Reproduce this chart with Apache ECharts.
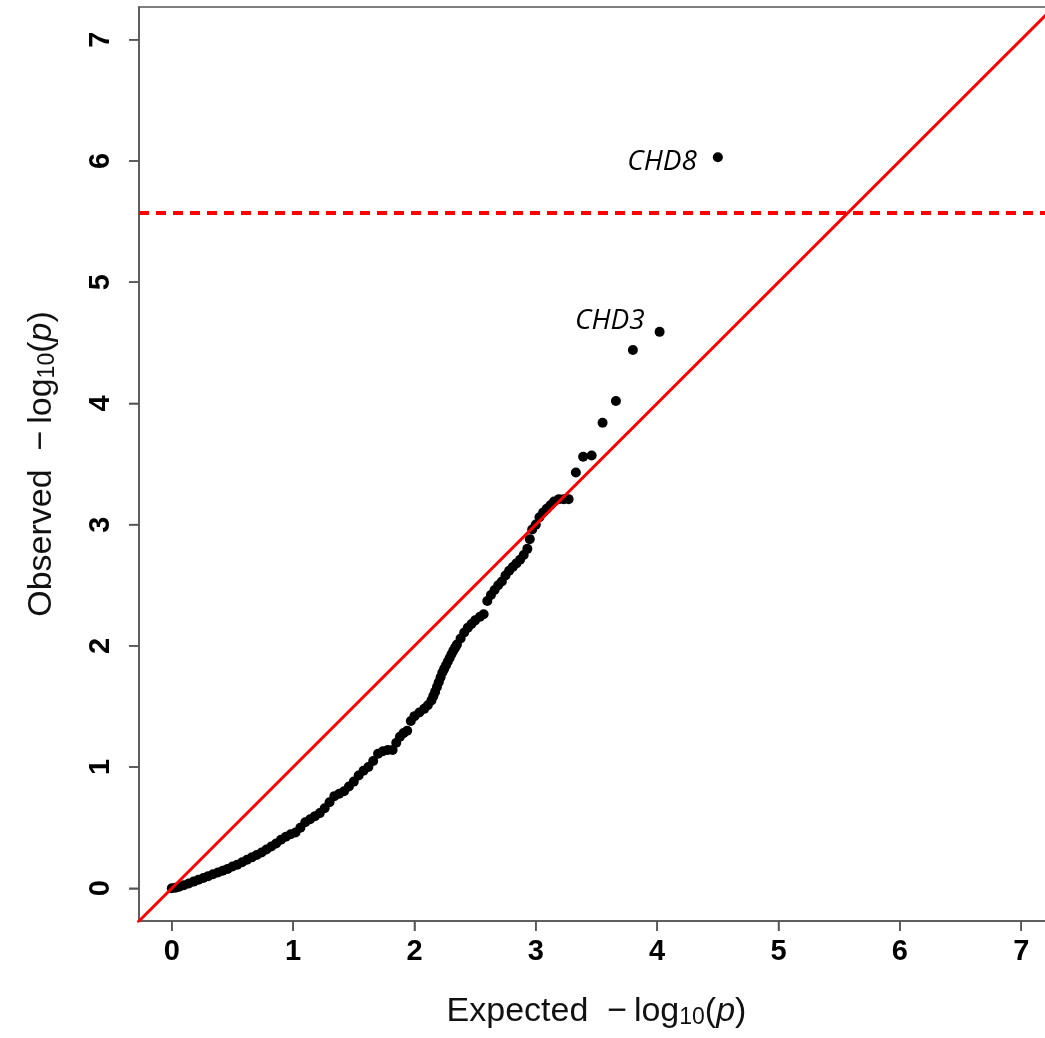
<!DOCTYPE html>
<html>
<head>
<meta charset="utf-8">
<title>QQ plot</title>
<script src="https://cdn.jsdelivr.net/npm/echarts@6/dist/echarts.min.js"></script>
<style>
  html, body { margin: 0; padding: 0; background: #fff; }
  #qq { width: 1045px; height: 1038px; }
</style>
</head>
<body>
<div id="qq"></div>
<script>
// expected / observed -log10(p)
const expected = [
  0.00, 0.03, 0.06, 0.10, 0.14, 0.18, 0.22, 0.26, 0.30, 0.34,
  0.38, 0.42, 0.46, 0.50, 0.54, 0.58, 0.62, 0.66, 0.70, 0.74,
  0.78, 0.82, 0.86, 0.90, 0.94, 0.98, 1.02, 1.06, 1.10, 1.14,
  1.18, 1.22, 1.26, 1.30, 1.34, 1.38, 1.42, 1.46, 1.50, 1.54,
  1.58, 1.62, 1.66, 1.70, 1.74, 1.78, 1.82, 1.85, 1.88, 1.91,
  1.94, 1.97, 2.00, 2.04, 2.08, 2.11, 2.14, 2.155, 2.17, 2.185,
  2.20, 2.215, 2.23, 2.245, 2.26, 2.275, 2.29, 2.305, 2.32, 2.335,
  2.35, 2.38, 2.41, 2.44, 2.47, 2.50, 2.54, 2.57, 2.60, 2.63,
  2.66, 2.69, 2.72, 2.75, 2.78, 2.81, 2.84, 2.87, 2.90, 2.93,
  2.95, 2.97, 3.00, 3.03, 3.06, 3.09, 3.12, 3.15, 3.19, 3.23,
  3.27, 3.33, 3.39, 3.46, 3.55, 3.66, 3.80, 4.02, 4.50
];
const observed = [
  0.00, 0.005, 0.012, 0.025, 0.04, 0.055, 0.07, 0.085, 0.10, 0.115,
  0.13, 0.145, 0.16, 0.18, 0.195, 0.215, 0.235, 0.255, 0.275, 0.295,
  0.32, 0.345, 0.37, 0.40, 0.425, 0.445, 0.46, 0.50, 0.545, 0.57,
  0.595, 0.62, 0.66, 0.71, 0.76, 0.78, 0.80, 0.84, 0.88, 0.93,
  0.97, 1.00, 1.05, 1.11, 1.13, 1.14, 1.14, 1.20, 1.25, 1.28,
  1.30, 1.38, 1.42, 1.45, 1.48, 1.51, 1.55, 1.585, 1.62, 1.66,
  1.70, 1.74, 1.78, 1.81, 1.84, 1.87, 1.90, 1.93, 1.96, 1.985,
  2.01, 2.06, 2.11, 2.15, 2.18, 2.21, 2.24, 2.26, 2.37, 2.42,
  2.46, 2.50, 2.53, 2.58, 2.62, 2.65, 2.68, 2.71, 2.75, 2.80,
  2.88, 2.96, 3.00, 3.06, 3.10, 3.13, 3.16, 3.19, 3.21, 3.21,
  3.21, 3.43, 3.56, 3.57, 3.84, 4.02, 4.44, 4.59, 6.03
];
// labelled genes
const geneNames = ["CHD3", "CHD8"];
const geneExpected = [4.02, 4.50];
const geneObserved = [4.59, 6.03];

const tickValues = [0, 1, 2, 3, 4, 5, 6, 7];
const axisMin = -0.27;
const axisMax = 7.27;
const diagonal = [[-1, -1], [8, 8]];
const threshold = 5.57;

let qqChart = echarts.init(document.getElementById("qq"));

let points = [];
for (let i in expected) {
  points.push([expected[i], observed[i]]);
}
// label offsets are styling, kept apart from the values
let labelOffsets = [[-10, -11], [-16, 5]];
let genePoints = [];
for (let i in geneNames) {
  genePoints.push({
    name: geneNames[i],
    value: [geneExpected[i], geneObserved[i]],
    label: {offset: labelOffsets[i]}
  });
}

let titleRich = {
  a: {fontFamily: "Liberation Sans", fontSize: 34, color: "#111", lineHeight: 42, verticalAlign: "bottom"},
  s: {fontFamily: "Liberation Sans", fontSize: 23, color: "#111", lineHeight: 23, verticalAlign: "bottom"},
  i: {fontFamily: "Liberation Sans", fontSize: 34, fontStyle: "italic", color: "#111", lineHeight: 42, verticalAlign: "bottom"}
};

function makeAxis(extra) {
  return Object.assign({
    type: "value",
    min: axisMin,
    max: axisMax,
    nameLocation: "middle",
    axisLine: {show: true, onZero: false, lineStyle: {color: "#555", width: 1.5}},
    splitLine: {show: false},
    axisTick: {
      show: true,
      length: 10,
      customValues: tickValues,
      lineStyle: {color: "#555", width: 1.5}
    }
  }, extra);
}

let labelStyle = {
  customValues: tickValues,
  fontFamily: "Liberation Sans",
  fontWeight: "bold",
  fontSize: 29,
  color: "#000"
};

let option = {
  animation: false,
  grid: {
    left: 139,
    top: 7,
    width: 915,
    height: 914,
    show: true,
    borderColor: "#555",
    borderWidth: 1.5,
    outerBoundsMode: "none",
    containLabel: false
  },
  xAxis: makeAxis({
    name: "{a|Expected  \u2212\u2009log}{s|10}{a|(}{i|p}{a|)}",
    nameGap: 66,
    nameTextStyle: {rich: titleRich},
    axisLabel: Object.assign({}, labelStyle, {margin: 16})
  }),
  yAxis: makeAxis({
    name: "{a|Observed  \u2212\u2009log}{s|10}{a|(}{i|p}{a|)}",
    nameGap: 80,
    nameRotate: 90,
    nameTextStyle: {rich: titleRich},
    axisLabel: Object.assign({}, labelStyle, {margin: 24, rotate: 90})
  }),
  series: [
    {
      // y = x reference line
      type: "line",
      data: diagonal,
      symbol: "none",
      clip: true,
      lineStyle: {color: "#ff0000", width: 3},
      silent: true,
      z: 3
    },
    {
      type: "line",
      data: [],
      symbol: "none",
      markLine: {
        silent: true,
        symbol: "none",
        label: {show: false},
        lineStyle: {color: "#ff0000", width: 4, type: [10, 7]},
        data: [{yAxis: threshold}]
      }
    },
    {
      type: "scatter",
      data: points,
      symbolSize: 10,
      itemStyle: {color: "#000", opacity: 1},
      z: 2
    },
    {
      // gene labels
      type: "scatter",
      data: genePoints,
      symbolSize: 0,
      itemStyle: {color: "#000", opacity: 1},
      label: {
        show: true,
        position: "left",
        formatter: "{b}",
        fontFamily: "Open Sans",
        fontStyle: "italic",
        fontSize: 28,
        color: "#000"
      },
      z: 4
    }
  ]
};

qqChart.setOption(option);

// outward ticks on the frame, positioned through the chart's own axes
let tickLines = [];
for (let i in tickValues) {
  let px = qqChart.convertToPixel({gridIndex: 0}, [tickValues[i], axisMin]);
  let py = qqChart.convertToPixel({gridIndex: 0}, [axisMin, tickValues[i]]);
  if (px && py) {
    tickLines.push({
      type: "line", z: 100, silent: true,
      shape: {x1: px[0], y1: px[1], x2: px[0], y2: px[1] + 10},
      style: {stroke: "#555", lineWidth: 1.5}
    });
    tickLines.push({
      type: "line", z: 100, silent: true,
      shape: {x1: py[0], y1: py[1], x2: py[0] - 10, y2: py[1]},
      style: {stroke: "#555", lineWidth: 1.5}
    });
  }
}
qqChart.setOption({graphic: tickLines});
</script>
</body>
</html>
